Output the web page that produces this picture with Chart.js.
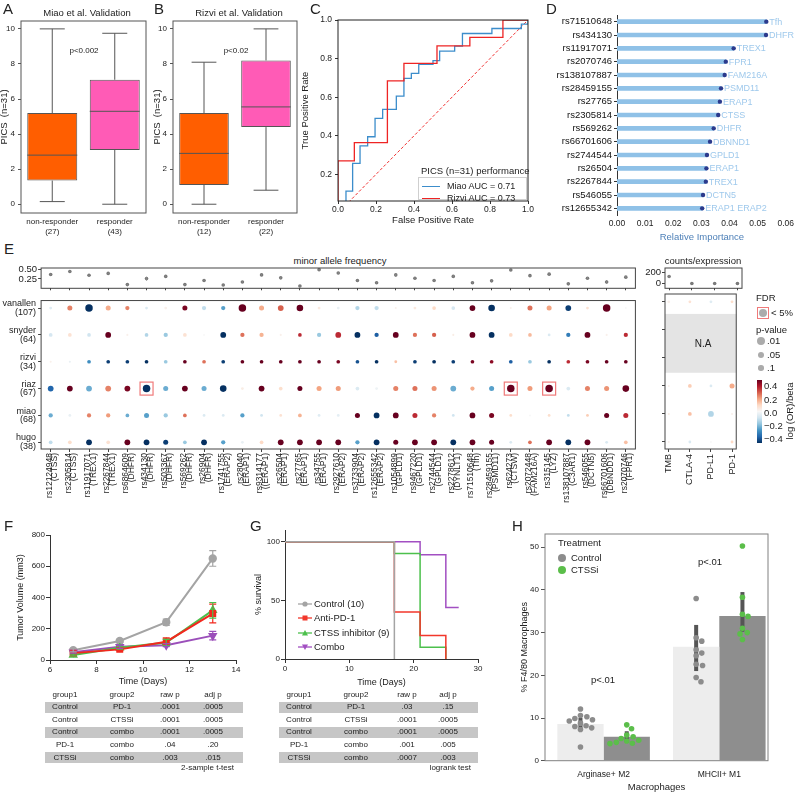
<!DOCTYPE html>
<html><head><meta charset="utf-8">
<script src="https://cdn.jsdelivr.net/npm/chart.js@4.4.1/dist/chart.umd.min.js"></script>
<style>
body{margin:0;background:#fff;}
#root{position:relative;width:798px;height:793px;overflow:hidden;font-family:"Liberation Sans",Arial,sans-serif;color:#222;background:#fff;}
canvas{position:absolute;}
.t{position:absolute;white-space:nowrap;line-height:1;}
</style></head><body><div id="root"></div>
<script>
// ================= DATA =================
// A / B box plots
const groupsMiao = [['non-responder','(27)'],['responder','(43)']];
const groupsRizvi = [['non-responder','(12)'],['responder','(22)']];
const boxTicks = [0,2,4,6,8,10];
const miaoMin=[0.15,0.0], miaoQ1=[1.35,3.1], miaoMedian=[2.8,5.3], miaoQ3=[5.2,7.1], miaoMax=[10.0,9.75];
const rizviMin=[0.0,0.8], rizviQ1=[1.1,4.4], rizviMedian=[2.9,5.55], rizviQ3=[5.2,8.2], rizviMax=[8.1,10.0];
// C ROC
const rocMiaoFpr=[0,0.042,0.077,0.116,0.156,0.195,0.235,0.307,0.347,0.386,0.425,0.50,0.535,0.614,0.655,0.81,0.965,1.0];
const rocMiaoTpr=[0,0.113,0.257,0.348,0.395,0.49,0.537,0.606,0.697,0.723,0.77,0.789,0.839,0.865,0.93,0.956,0.979,1.0];
const rocRizviFpr=[0,0,0.086,0.26,0.347,0.521,0.694,0.868,1.0];
const rocRizviTpr=[0,0.27,0.364,0.685,0.775,0.866,0.91,1.0,1.0];
const rocTicks=[0,0.2,0.4,0.6,0.8,1.0];
// D importance
const snpD=['rs71510648','rs434130','rs11917071','rs2070746','rs138107887','rs28459155','rs27765','rs2305814','rs569262','rs66701606','rs2744544','rs26504','rs2267844','rs546055','rs12655342'];
const geneD=['Tfh','DHFR','TREX1','FPR1','FAM216A','PSMD11','ERAP1','CTSS','DHFR','DBNND1','GPLD1','ERAP1','TREX1','DCTN5','ERAP1   ERAP2'];
const importanceD=[0.0531,0.0530,0.0415,0.0387,0.0383,0.0370,0.0366,0.0360,0.0344,0.0331,0.0320,0.0318,0.0316,0.0306,0.0303];
const importanceTicks=[0,0.01,0.02,0.03,0.04,0.05,0.06];
// E
const snpIds=['rs12124948','rs2305814','rs11917071','rs2267844','rs6864609','rs434130','rs503367','rs569262','rs26904','rs1741755','rs28040','rs9314177','rs26504','rs27765','rs34755','rs2927610','rs3733904','rs12655342','rs1054899','rs9467220','rs2744544','rs2278612','rs71510648','rs28459155','rs624273','rs2072448','rs315145','rs138107887','rs546055','rs66701606','rs2070746'];
const snpGenes=['CTSS','CTSS','TREX1','TREX1','DHFR','DHFR','DHFR','DHFR','DHFR','ERAP2','ERAP1','(ERAP1','ERAP1','ERAP1','ERAP1','ERAP2','ERAP2','ERAP2','GPLD1','GPLD1','GPLD1','DYNLT1','Tfh','PSMD11','CTSW','FAM216A','LYZ','C3AR1','DCTN5','DBNDD1','FPR1'];
const mafValues=[0.37,0.45,0.35,0.40,0.10,0.26,0.32,0.10,0.21,0.09,0.17,0.36,0.28,0.06,0.50,0.41,0.21,0.15,0.36,0.27,0.21,0.32,0.15,0.20,0.49,0.34,0.38,0.12,0.27,0.17,0.30];
const mafErr=[0.02,0.02,0.02,0.02,0.02,0.05,0.02,0.02,0.03,0.02,0.02,0.02,0.03,0.02,0.02,0.03,0.02,0.02,0.05,0.03,0.03,0.03,0.02,0.02,0.02,0.02,0.03,0.02,0.03,0.05,0.03];
const mafTicks=[0.25,0.50];
const cohortNames=['vanallen','snyder','rizvi','riaz','miao','hugo'];
const cohortN=[107,64,34,67,68,38];
const orVanallen=[-0.05,0.2,-0.4,0.15,0.2,-0.06,0.02,0.38,-0.1,-0.22,0.4,0.15,0.24,0.4,0.04,-0.03,-0.12,-0.1,0.02,0.04,0.08,-0.07,0.4,-0.4,0.02,0.22,0.16,-0.38,0.06,0.4,0];
const pVanallen=[0.3,0.02,0.001,0.02,0.05,0.3,0.3,0.02,0.05,0.05,0.001,0.02,0.008,0.003,0.3,0.3,0.05,0.05,0.7,0.3,0.1,0.1,0.008,0.003,0.7,0.02,0.02,0.008,0.3,0.001,0.9];
const orSnyder=[-0.07,0.06,-0.08,0.4,0.02,-0.12,-0.15,0.06,0,-0.4,0.22,0.14,0.02,0.3,-0.15,0.3,-0.4,-0.33,0.4,0.22,0.24,0.03,0.4,-0.4,0.08,0.13,-0.06,-0.28,0.4,0.02,0.3];
const pSnyder=[0.1,0.1,0.1,0.008,0.7,0.1,0.05,0.1,0.9,0.008,0.05,0.05,0.7,0.1,0.05,0.008,0.008,0.05,0.008,0.05,0.05,0.7,0.008,0.008,0.1,0.1,0.3,0.05,0.008,0.7,0.05];
const orRizvi=[0.02,-0.03,-0.25,-0.38,-0.38,-0.4,-0.15,0.4,0.22,-0.38,0.4,0.4,0.4,0.4,0.4,0.38,-0.35,-0.4,0.12,-0.38,-0.4,-0.38,0.38,0.36,-0.33,-0.15,-0.4,0.3,0.38,0.4,0.4];
const pRizvi=[0.7,0.7,0.1,0.1,0.1,0.1,0.1,0.1,0.1,0.1,0.1,0.1,0.1,0.1,0.1,0.1,0.1,0.1,0.3,0.1,0.1,0.1,0.1,0.1,0.1,0.1,0.1,0.1,0.1,0.1,0.1];
const orRiaz=[-0.32,0.4,-0.2,0.2,0.38,-0.4,-0.2,0.4,-0.2,-0.4,0.03,0.4,0.07,0.4,0.16,0.17,-0.06,-0.02,0.2,0.22,0.18,-0.2,0.15,-0.22,0.4,0.17,0.4,-0.06,0.2,0.18,0.4];
const pRiaz=[0.008,0.008,0.008,0.008,0.008,0.001,0.02,0.008,0.02,0.003,0.3,0.008,0.1,0.02,0.02,0.02,0.1,0.3,0.02,0.02,0.02,0.008,0.05,0.02,0.001,0.02,0.001,0.1,0.02,0.02,0.003];
const orMiao=[-0.2,-0.03,0.2,0.17,-0.2,-0.22,-0.15,0.22,-0.06,-0.06,-0.22,-0.08,0.06,0.14,-0.05,-0.04,0.4,-0.4,0.4,0.3,0.2,-0.08,0.4,0.38,0.07,0,0.07,-0.1,0.1,0.4,0.3];
const pMiao=[0.05,0.3,0.05,0.05,0.1,0.02,0.05,0.1,0.3,0.3,0.05,0.3,0.3,0.1,0.3,0.3,0.02,0.008,0.008,0.02,0.05,0.3,0.008,0.02,0.3,0.9,0.3,0.3,0.3,0.02,0.02];
const orHugo=[-0.1,0.07,-0.4,0.06,0.4,-0.4,-0.38,-0.15,-0.4,-0.22,-0.03,0.08,0.4,0.4,0.4,0.4,-0.22,-0.4,0.4,0.4,0.4,-0.4,0.4,0.4,-0.06,0.22,0.4,-0.4,0.4,-0.06,0.12];
const pHugo=[0.1,0.1,0.008,0.1,0.008,0.008,0.02,0.1,0.008,0.05,0.3,0.1,0.008,0.008,0.008,0.008,0.05,0.008,0.02,0.008,0.008,0.008,0.008,0.02,0.3,0.1,0.008,0.008,0.008,0.3,0.1];
const fdrCells=[['riaz','rs434130'],['riaz','rs624273'],['riaz','rs315145']];
const clinicalNames=['TMB','CTLA-4','PD-L1','PD-1'];
const countsValues=[125,3,3,3];
const countsErr=[25,5,5,5];
const countsTicks=[0,200];
const orClinVanallen=[0.02,0.06,-0.05,0.07], pClinVanallen=[0.3,0.3,0.3,0.3];
const orClinRiaz=[0.02,0.1,-0.06,0.15], pClinRiaz=[0.7,0.1,0.3,0.02];
const orClinMiao=[0.03,0.12,-0.12,0.02], pClinMiao=[0.7,0.1,0.008,0.7];
const orClinHugo=[0.02,-0.06,0,0.08], pClinHugo=[0.7,0.3,0.9,0.3];
const naCohorts=['snyder','rizvi'];
// F tumour growth
const days=[7,9,11,13];
const volControl=[62,122,242,650], errControl=[10,10,20,50];
const volPD1=[44,68,117,297], errPD1=[6,8,25,60];
const volCTSS=[32,78,112,318], errCTSS=[6,8,20,50];
const volCombo=[50,85,95,156], errCombo=[6,10,10,27];
// G survival
const tControl=[0,17], sControl=[100,0];
const tPD1=[0,17,21,25], sPD1=[100,40,20,0];
const tCTSS=[0,17,21,25], sCTSS=[100,90,10,0];
const tCombo=[0,21,25,27], sCombo=[100,89,44,44];
const tableHeader=['group1','group2','raw p','adj p'];
const fTable=[['Control','PD-1','.0001','.0005'],['Control','CTSSi','.0001','.0005'],['Control','combo','.0001','.0005'],['PD-1','combo','.04','.20'],['CTSSi','combo','.003','.015']];
const gTable=[['Control','PD-1','.03','.15'],['Control','CTSSi','.0001','.0005'],['Control','combo','.0001','.0005'],['PD-1','combo','.001','.005'],['CTSSi','combo','.0007','.003']];
// H macrophages
const hCategories=['Arginase+ M2','MHCII+ M1'];
const hControlMean=[8.6,26.7], hCtssMean=[5.6,33.9];
const hControlLow=[7.3,21.0], hControlHigh=[10.0,31.8];
const hCtssLow=[4.9,30.2], hCtssHigh=[6.9,39.5];
const hControlM2=[12.1,10.6,10.3,9.9,9.6,9.3,8.8,8.2,8.0,7.7,7.3,3.2];
const hControlM1=[38.0,28.8,28.0,26.0,25.2,24.6,22.6,22.3,19.5,18.5];
const hCtssM2=[8.4,7.5,6.0,5.6,5.2,4.8,4.6,4.3,4.1,4.0];
const hCtssM1=[50.3,38.3,34.3,33.8,31.0,30.0,29.7,28.4];
const hTicks=[0,10,20,30,40,50];

// ================= HELPERS =================
const FONT='"Liberation Sans", Arial, sans-serif';
Chart.defaults.font.family=FONT;
Chart.defaults.color='#222';
Chart.defaults.animation=false;
Chart.defaults.events=[];
Chart.defaults.plugins.legend.display=false;
Chart.defaults.plugins.tooltip.enabled=false;
const root=document.getElementById('root');

function addText(s,x,y,o={}){
  const d=document.createElement('div');d.className='t';d.textContent=s;
  d.style.left=x+'px';d.style.top=y+'px';d.style.fontSize=(o.size||9.5)+'px';
  if(o.color)d.style.color=o.color;
  let ax=o.anchor==='left'?'0%':o.anchor==='right'?'-100%':'-50%';
  if(o.anchor==='tl'){d.style.transform='none';}
  else d.style.transform='translate('+ax+',-50%)'+(o.rot?' rotate('+o.rot+'deg)':'');
  root.appendChild(d);return d;
}
function addBox(x,y,w,h,style){const d=document.createElement('div');Object.assign(d.style,{position:'absolute',left:x+'px',top:y+'px',width:w+'px',height:h+'px'},style);root.appendChild(d);return d;}
function mk(x,y,w,h,cfg){
  const c=document.createElement('canvas');c.width=w;c.height=h;
  Object.assign(c.style,{left:x+'px',top:y+'px',width:w+'px',height:h+'px'});
  root.appendChild(c);
  cfg.options=Object.assign({responsive:false,maintainAspectRatio:false,devicePixelRatio:1,animation:false},cfg.options||{});
  return new Chart(c,cfg);
}
const fixW=w=>s=>{s.width=w;};
const fixH=h=>s=>{s.height=h;};
const setTicks=vals=>s=>{s.ticks=vals.map(v=>({value:v}));};
const tickGrid=(len,color)=>({display:true,drawOnChartArea:false,drawTicks:true,tickLength:len,color:color||'#333'});
const noGrid={display:false,drawTicks:false};

Chart.register({id:'frame',afterDatasetsDraw(chart,args,o){
  if(!o||!o.color)return;const a=chart.chartArea,c=chart.ctx;
  c.save();c.strokeStyle=o.color;c.lineWidth=o.width||1;
  c.strokeRect(a.left,a.top,a.right-a.left,a.bottom-a.top);c.restore();}});
Chart.register({id:'errbars',afterDatasetsDraw(chart){
  const c=chart.ctx;
  chart.data.datasets.forEach((ds,i)=>{
    if(!ds.errs)return;const meta=chart.getDatasetMeta(i);const ys=chart.scales[meta.yAxisID];
    c.save();c.strokeStyle=ds.errColor||ds.borderColor;c.lineWidth=ds.errWidth||1;
    meta.data.forEach((el,j)=>{const e=ds.errs[j];if(!e)return;const v=meta.controller.getParsed(j).y;
      const t=ys.getPixelForValue(v+e),b=ys.getPixelForValue(v-e),cw=ds.capW||0;
      c.beginPath();c.moveTo(el.x,t);c.lineTo(el.x,b);
      if(cw){c.moveTo(el.x-cw,t);c.lineTo(el.x+cw,t);c.moveTo(el.x-cw,b);c.lineTo(el.x+cw,b);}
      c.stroke();});
    c.restore();});}});

const rdbuStops=['#053061','#2166AC','#4393C3','#92C5DE','#D1E5F0','#F7F7F7','#FDDBC7','#F4A582','#D6604D','#B2182B','#67001F'];
function hex2rgb(h){return [1,3,5].map(i=>parseInt(h.substr(i,2),16));}
function rdbu(v){let t=Math.max(0,Math.min(1,(v+0.4)/0.8))*10;const i=Math.min(9,Math.floor(t)),f=t-i;
  const a=hex2rgb(rdbuStops[i]),b=hex2rgb(rdbuStops[i+1]);
  return 'rgb('+a.map((x,k)=>Math.round(x+(b[k]-x)*f)).join(',')+')';}
function radiusFor(p){return Math.max(0.9,0.9+0.95*(-Math.log10(p)));}

// ================= A / B =================
function boxChart(cx,plotLeft,plotRight,cw,labels,mins,q1s,meds,q3s,maxs,titlePad){
  const plug={id:'whisk',afterDatasetsDraw(chart){
    const y=chart.scales.y,c=chart.ctx,meta=chart.getDatasetMeta(0);
    c.save();c.strokeStyle='#555';c.lineWidth=1;
    meta.data.forEach((el,i)=>{const x=el.x,hw=el.width/2,P=v=>y.getPixelForValue(v);
      c.beginPath();
      c.moveTo(x,P(q3s[i]));c.lineTo(x,P(maxs[i]));c.moveTo(x-hw/2,P(maxs[i]));c.lineTo(x+hw/2,P(maxs[i]));
      c.moveTo(x,P(q1s[i]));c.lineTo(x,P(mins[i]));c.moveTo(x-hw/2,P(mins[i]));c.lineTo(x+hw/2,P(mins[i]));
      c.moveTo(x-hw,P(meds[i]));c.lineTo(x+hw,P(meds[i]));c.stroke();});
    c.restore();}};
  return mk(cx,0,cw,240,{type:'bar',
    data:{labels,datasets:[{data:q1s.map((q,i)=>[q,q3s[i]]),backgroundColor:['#FF5E00','#FF5BB6'],borderColor:'#555',borderWidth:1,borderSkipped:false,barPercentage:0.8,categoryPercentage:1}]},
    options:{layout:{autoPadding:false,padding:{top:21,right:cx+cw-plotRight,left:0,bottom:0}},
      scales:{x:{grid:noGrid,border:{display:false},ticks:{font:{size:8},padding:4,color:'#222'},afterFit:fixH(27)},
        y:{min:-0.5,max:10.45,afterBuildTicks:setTicks(boxTicks),grid:tickGrid(3,'#555'),border:{display:false},
          ticks:{font:{size:8},padding:3,color:'#222'},title:{display:true,text:'PICS  (n=31)',font:{size:9.5},padding:{top:titlePad}},afterFit:fixW(plotLeft-cx)}},
      plugins:{frame:{color:'#555'}}},plugins:[plug]});
}
boxChart(0,21,146,150,groupsMiao,miaoMin,miaoQ1,miaoMedian,miaoQ3,miaoMax,-1);
boxChart(150,173,297,152,groupsRizvi,rizviMin,rizviQ1,rizviMedian,rizviQ3,rizviMax,2);
addText('A',3,1,{anchor:'tl',size:15});
addText('B',154,1,{anchor:'tl',size:15});
addText('Miao et al. Validation',87,13,{size:9.5});
addText('Rizvi et al. Validation',239,13,{size:9.5});
addText('p<0.002',84,51,{size:8});
addText('p<0.02',236,51,{size:8});

// ================= C =================
const toXY=(xs,ys)=>xs.map((x,i)=>({x,y:ys[i]}));
mk(300,0,235,232,{type:'scatter',
  data:{datasets:[
    {data:toXY(rocRizviFpr,rocRizviTpr),showLine:true,stepped:true,borderColor:'#EE2424',borderWidth:1.3,pointRadius:0},
    {data:toXY(rocMiaoFpr,rocMiaoTpr),showLine:true,stepped:true,borderColor:'#3C8DCB',borderWidth:1.3,pointRadius:0},
    {data:[{x:0,y:0},{x:1,y:1}],showLine:true,borderColor:'#F03030',borderWidth:1,borderDash:[3,2],pointRadius:0}]},
  options:{layout:{autoPadding:false,padding:{top:20,right:7,left:0,bottom:0}},
    scales:{x:{type:'linear',min:0,max:1,afterBuildTicks:setTicks(rocTicks),grid:tickGrid(3,'#333'),border:{display:false},
        ticks:{font:{size:8.5},padding:1,callback:v=>v.toFixed(1)},title:{display:true,text:'False Positive Rate',font:{size:9.5},padding:{bottom:6}},afterFit:fixH(31)},
      y:{min:0.062,max:1,afterBuildTicks:setTicks(rocTicks.slice(1)),grid:tickGrid(3,'#333'),border:{display:false},
        ticks:{font:{size:8.5},padding:3,callback:v=>v.toFixed(1)},title:{display:true,text:'True Positive Rate',font:{size:9.5},padding:{top:0}},afterFit:fixW(38)}},
    plugins:{frame:{color:'#222'}}}});
addText('C',310,1,{anchor:'tl',size:15});
addText('PICS (n=31) performance',421,171,{anchor:'left',size:9.5});
addBox(418,177,109,23,{border:'1px solid #cfcfcf',background:'#fff',boxSizing:'border-box'});
addBox(422,185.5,18,0,{borderTop:'1.5px solid #3C8DCB'});
addBox(422,197.5,18,0,{borderTop:'1.5px solid #EE2424'});
addText('Miao AUC = 0.71',447,186,{anchor:'left',size:9});
addText('Rizvi AUC = 0.73',447,198,{anchor:'left',size:9});

// ================= D =================
const chartD=mk(535,0,263,245,{type:'bar',
  data:{labels:snpD,datasets:[{data:importanceD,backgroundColor:'#8FC1E7',barThickness:4}]},
  options:{indexAxis:'y',layout:{autoPadding:false,padding:{top:15,right:4,left:0,bottom:0}},
    scales:{x:{min:0,max:0.0604,afterBuildTicks:setTicks(importanceTicks),grid:noGrid,border:{display:false},
        ticks:{font:{size:8.5},padding:4,callback:v=>v.toFixed(2)},title:{display:true,text:'Relative Importance',color:'#4F81B8',font:{size:9.5},padding:{bottom:2}},afterFit:fixH(30)},
      y:{grid:Object.assign(tickGrid(3,'#333'),{offset:false}),border:{display:true,color:'#333'},ticks:{autoSkip:false,font:{size:9.5},padding:2,color:'#111'},afterFit:fixW(82)}}},
  plugins:[{id:'lolli',afterDatasetsDraw(chart){const c=chart.ctx;c.save();c.fillStyle='#2B3A8C';
    chart.getDatasetMeta(0).data.forEach(el=>{c.beginPath();c.arc(el.x,el.y,2.2,0,Math.PI*2);c.fill();});c.restore();}}]});
chartD.getDatasetMeta(0).data.forEach((el,i)=>addText(geneD[i],535+el.x+3,el.y,{anchor:'left',size:9,color:'#9FC9EC'}));
addText('D',546,1,{anchor:'tl',size:15});

// ================= E =================
addText('E',4,241,{anchor:'tl',size:15});
addText('minor allele frequency',340,261,{size:9.5});
addText('counts/expression',703,261,{size:9.5});
// MAF
mk(0,250,640,45,{type:'line',
  data:{labels:snpIds,datasets:[{data:mafValues,errs:mafErr,errColor:'#888',showLine:false,pointRadius:1.8,pointBackgroundColor:'#777',pointBorderWidth:0}]},
  options:{layout:{autoPadding:false,padding:{top:18,right:4.6,left:0,bottom:0}},
    scales:{x:{type:'category',offset:true,grid:tickGrid(2,'#444'),border:{display:false},ticks:{display:false},afterFit:fixH(2.5)},
      y:{min:0,max:0.545,afterBuildTicks:setTicks(mafTicks),grid:tickGrid(3,'#444'),border:{display:false},ticks:{font:{size:9.5},padding:1,callback:v=>v.toFixed(2)},afterFit:fixW(41.1)}},
    plugins:{frame:{color:'#444'}}}});
// counts
mk(630,250,115,45,{type:'scatter',
  data:{datasets:[{data:countsValues.map((v,i)=>({x:i,y:v})),errs:countsErr,errColor:'#888',pointRadius:1.8,pointBackgroundColor:'#777',pointBorderWidth:0}]},
  options:{layout:{autoPadding:false,padding:{top:18,right:3,left:0,bottom:0}},
    scales:{x:{min:-0.18,max:3.2,afterBuildTicks:setTicks([0,1,2,3]),grid:tickGrid(2,'#444'),border:{display:false},ticks:{display:false},afterFit:fixH(2.5)},
      y:{min:-79,max:271,afterBuildTicks:setTicks(countsTicks),grid:tickGrid(3,'#444'),border:{display:false},ticks:{font:{size:9.5},padding:1},afterFit:fixW(35)}},
    plugins:{frame:{color:'#444'}}}});
// dot matrix
const orRows=[orVanallen,orSnyder,orRizvi,orRiaz,orMiao,orHugo];
const pRows=[pVanallen,pSnyder,pRizvi,pRiaz,pMiao,pHugo];
const ePts=[];
orRows.forEach((row,r)=>row.forEach((v,c)=>ePts.push({x:snpIds[c],y:5-r,v,p:pRows[r][c]})));
const rowTicks=[0,1,2,3,4,5];
const fdrPlugin={id:'fdr',afterDatasetsDraw(chart){const c=chart.ctx,xs=chart.scales.x,ys=chart.scales.y;
  c.save();c.strokeStyle='#F07A7A';c.lineWidth=1.2;
  fdrCells.forEach(([co,snp])=>{const px=xs.getPixelForValue(snpIds.indexOf(snp)),py=ys.getPixelForValue(5-cohortNames.indexOf(co));c.strokeRect(px-6.5,py-6.5,13,13);});
  c.restore();}};
mk(0,290,640,230,{type:'scatter',
  data:{labels:snpIds,datasets:[{data:ePts,pointRadius:ctx=>radiusFor(ctx.raw.p),pointBackgroundColor:ctx=>rdbu(ctx.raw.v),pointBorderWidth:0}]},
  options:{layout:{autoPadding:false,padding:{top:4,right:4.6,left:0,bottom:0}},
    scales:{x:{type:'category',offset:true,grid:tickGrid(3,'#444'),border:{display:false},
        ticks:{autoSkip:false,minRotation:90,maxRotation:90,font:{size:8.5,lineHeight:0.68},padding:1,labelOffset:-1.5,color:'#222',
          callback:(v,i)=>[snpIds[i],'('+snpGenes[i]+')']},afterFit:fixH(71)},
      y:{min:-0.25,max:5.28,afterBuildTicks:setTicks(rowTicks),grid:tickGrid(3,'#444'),border:{display:false},
        ticks:{font:{size:9,lineHeight:0.95},padding:2,color:'#222',callback:v=>[cohortNames[5-v],'('+cohortN[5-v]+')']},afterFit:fixW(41.1)}},
    plugins:{frame:{color:'#444'}}},plugins:[fdrPlugin]});
// clinical matrix
const clinRows={vanallen:[orClinVanallen,pClinVanallen],riaz:[orClinRiaz,pClinRiaz],miao:[orClinMiao,pClinMiao],hugo:[orClinHugo,pClinHugo]};
const cPts=[];
cohortNames.forEach((co,r)=>{if(!clinRows[co])return;const [ors,ps]=clinRows[co];ors.forEach((v,c)=>cPts.push({x:c,y:5-r,v,p:ps[c]}));});
const naPlugin={id:'na',beforeDatasetsDraw(chart){const a=chart.chartArea,ys=chart.scales.y,c=chart.ctx;
  const idx=naCohorts.map(n=>5-cohortNames.indexOf(n));const top=ys.getPixelForValue(Math.max(...idx)+0.57),bot=ys.getPixelForValue(Math.min(...idx)-0.53);
  c.save();c.fillStyle='#E4E4E4';c.fillRect(a.left,top,a.right-a.left,bot-top);c.restore();}};
const chartClin=mk(630,290,115,230,{type:'scatter',
  data:{datasets:[{data:cPts,pointRadius:ctx=>radiusFor(ctx.raw.p),pointBackgroundColor:ctx=>rdbu(ctx.raw.v),pointBorderWidth:0}]},
  options:{layout:{autoPadding:false,padding:{top:4,right:3,left:0,bottom:0}},
    scales:{x:{min:-0.18,max:3.2,afterBuildTicks:setTicks([0,1,2,3]),grid:tickGrid(3,'#444'),border:{display:false},
        ticks:{autoSkip:false,minRotation:90,maxRotation:90,font:{size:9},padding:2,callback:v=>clinicalNames[v]},afterFit:fixH(71)},
      y:{min:-0.25,max:5.28,afterBuildTicks:setTicks(rowTicks),grid:tickGrid(3,'#444'),border:{display:false},ticks:{display:false},afterFit:fixW(35)}},
    plugins:{frame:{color:'#444'}}},plugins:[naPlugin]});
{const ys=chartClin.scales.y;const y=(ys.getPixelForValue(4)+ys.getPixelForValue(3))/2+290;addText('N.A',703,y,{size:10});}
// E legend
addText('FDR',756,298,{anchor:'left',size:9.5});
addBox(756.5,306.5,12.5,12.5,{border:'1.2px solid #F07A7A',boxSizing:'border-box'});
addBox(758.5,308.5,8.5,8.5,{borderRadius:'50%',background:'#ABABAB'});
addText('< 5%',771,313,{anchor:'left',size:9.5});
addText('p-value',756,330,{anchor:'left',size:9.5});
[[341,4,'.01'],[355,3.4,'.05'],[368,2.8,'.1']].forEach(([y,r,s])=>{addBox(761-r,y-r,2*r,2*r,{borderRadius:'50%',background:'#ABABAB'});addText(s,767,y,{anchor:'left',size:9.5});});
addBox(757,380,4.5,63,{background:'linear-gradient(to bottom,'+rdbuStops.slice().reverse().join(',')+')'});
[[386,'0.4'],[399.5,'0.2'],[413,'0.0'],[426,'\u22120.2'],[439,'\u22120.4']].forEach(([y,s])=>addText(s,764,y,{anchor:'left',size:9.5}));
addText('log (OR)/beta',790,411,{size:9.5,rot:-90});

// ================= F =================
const toPts=(xs,ys)=>xs.map((x,i)=>({x,y:ys[i]}));
mk(10,515,235,175,{type:'line',
  data:{datasets:[
    {data:toPts(days,volPD1),errs:errPD1,capW:3.5,errWidth:1.2,borderColor:'#F2281E',backgroundColor:'#F2281E',pointStyle:'rect',pointRadius:3.5,borderWidth:2},
    {data:toPts(days,volCTSS),errs:errCTSS,capW:3.5,errWidth:1.2,borderColor:'#4CBF4C',backgroundColor:'#4CBF4C',pointStyle:'triangle',pointRadius:3.5,borderWidth:2},
    {data:toPts(days,volCombo),errs:errCombo,capW:3.5,errWidth:1.2,borderColor:'#9B4FBA',backgroundColor:'#9B4FBA',pointStyle:'triangle',rotation:180,pointRadius:3.5,borderWidth:2},
    {data:toPts(days,volControl),errs:errControl,capW:3.5,errWidth:1.2,borderColor:'#A4A4A4',backgroundColor:'#A4A4A4',pointStyle:'circle',pointRadius:3.2,borderWidth:2}]},
  options:{layout:{autoPadding:false,padding:{top:20,right:9,left:0,bottom:0}},
    scales:{x:{type:'linear',min:6,max:14,afterBuildTicks:setTicks([6,8,10,12,14]),grid:tickGrid(4,'#333'),border:{display:true,color:'#333'},
        ticks:{font:{size:8},padding:1},title:{display:true,text:'Time (Days)',font:{size:9},padding:{bottom:2.6}},afterFit:fixH(30)},
      y:{min:0,max:800,afterBuildTicks:setTicks([0,200,400,600,800]),grid:tickGrid(4,'#333'),border:{display:true,color:'#333'},
        ticks:{font:{size:8},padding:1},title:{display:true,text:'Tumor Volume (mm3)',font:{size:9},padding:{top:5}},afterFit:fixW(40)}}}});
addText('F',4,518,{anchor:'tl',size:15});

// ================= G =================
mk(250,515,235,175,{type:'line',
  data:{datasets:[
    {data:toPts(tControl,sControl),stepped:true,borderColor:'#A4A4A4',borderWidth:1.5,pointRadius:0},
    {data:toPts(tPD1,sPD1),stepped:true,borderColor:'#F2372B',borderWidth:1.5,pointRadius:0},
    {data:toPts(tCTSS,sCTSS),stepped:true,borderColor:'#4CC04C',borderWidth:1.5,pointRadius:0},
    {data:toPts(tCombo,sCombo),stepped:true,borderColor:'#A24FC2',borderWidth:1.5,pointRadius:0}]},
  options:{layout:{autoPadding:false,padding:{top:15,right:7,left:0,bottom:0}},
    scales:{x:{type:'linear',min:0,max:30,afterBuildTicks:setTicks([0,10,20,30]),grid:tickGrid(4,'#333'),border:{display:true,color:'#333'},
        ticks:{font:{size:8},padding:1},title:{display:true,text:'Time (Days)',font:{size:9},padding:{bottom:2}},afterFit:fixH(31)},
      y:{min:0,max:110,afterBuildTicks:setTicks([0,50,100]),grid:tickGrid(4,'#333'),border:{display:true,color:'#333'},
        ticks:{font:{size:8},padding:1},title:{display:true,text:'% survival',font:{size:9},padding:{top:3}},afterFit:fixW(35)}}}});
addText('G',250,518,{anchor:'tl',size:15});
function legendItem(x,y,color,shape,label){
  const ns='http://www.w3.org/2000/svg';const s=document.createElementNS(ns,'svg');
  s.setAttribute('width','16');s.setAttribute('height','10');
  Object.assign(s.style,{position:'absolute',left:(x-8)+'px',top:(y-5)+'px'});
  let inner='<line x1="1" y1="5" x2="15" y2="5" stroke="'+color+'" stroke-width="1.3"/>';
  if(shape==='circle')inner+='<circle cx="8" cy="5" r="2.6" fill="'+color+'"/>';
  if(shape==='square')inner+='<rect x="5.5" y="2.5" width="5" height="5" fill="'+color+'"/>';
  if(shape==='tri')inner+='<polygon points="8,2 11,7.5 5,7.5" fill="'+color+'"/>';
  if(shape==='itri')inner+='<polygon points="8,8 11,2.5 5,2.5" fill="'+color+'"/>';
  s.innerHTML=inner;root.appendChild(s);
  addText(label,x+9,y,{anchor:'left',size:9.5});
}
legendItem(305,603.5,'#A4A4A4','circle','Control (10)');
legendItem(305,618,'#F2372B','square','Anti-PD-1');
legendItem(305,632.5,'#4CC04C','tri','CTSS inhibitor (9)');
legendItem(305,647,'#A24FC2','itri','Combo');

// tables
function table(cols,x0,x1,rows,foot,footX){
  const y0=694.5,dy=12.6;
  tableHeader.forEach((h,k)=>addText(h,cols[k],y0,{size:8}));
  rows.forEach((r,i)=>{const y=y0+dy*(i+1);
    if(i%2===0)addBox(x0,y-5.5,x1-x0,11,{background:'#C6C6C6'});
    r.forEach((s,k)=>addText(s,cols[k],y,{size:8}));});
  addText(foot,footX,768,{anchor:'right',size:8});
}
table([65,122,170,213],45,243,fTable,'2-sample t-test',234);
table([299,356,407,448],279,478,gTable,'logrank test',471);

// ================= H =================
function swarm(pys,r){const res=new Array(pys.length).fill(0);const placed=[];
  pys.map((y,i)=>i).sort((a,b)=>pys[a]-pys[b]).forEach(i=>{
    for(let k=0;k<80;k++){const off=(k%2?1:-1)*Math.ceil(k/2)*0.8;
      if(placed.every(([px,py])=>Math.hypot(px-off,py-pys[i])>=2*r+0.3)){res[i]=off;placed.push([off,pys[i]]);break;}}});
  return res;}
const hPoints=[[hControlM2,hCtssM2],[hControlM1,hCtssM1]];
const hPlugin={id:'hdots',afterDatasetsDraw(chart){const c=chart.ctx,ys=chart.scales.y;
  const lows=[hControlLow,hCtssLow],highs=[hControlHigh,hCtssHigh],cols=['#8C8C8C','#5BBE4A'];
  [0,1].forEach(d=>{chart.getDatasetMeta(d).data.forEach((el,g)=>{
    c.save();c.strokeStyle='#555';c.lineWidth=4;c.beginPath();c.moveTo(el.x,ys.getPixelForValue(lows[d][g]));c.lineTo(el.x,ys.getPixelForValue(highs[d][g]));c.stroke();c.restore();});});
  [0,1].forEach(d=>{chart.getDatasetMeta(d).data.forEach((el,g)=>{
    const vals=hPoints[g][d];const pys=vals.map(v=>ys.getPixelForValue(v));const offs=swarm(pys,2.8);
    c.save();c.fillStyle=cols[d];vals.forEach((v,i)=>{c.beginPath();c.arc(el.x+offs[i],pys[i],2.8,0,Math.PI*2);c.fill();});c.restore();});});}};
mk(515,520,262,273,{type:'bar',
  data:{datasets:[
    {data:hControlMean.map((v,i)=>({x:i,y:v})),backgroundColor:'#EDEDED',categoryPercentage:0.8,barPercentage:1},
    {data:hCtssMean.map((v,i)=>({x:i,y:v})),backgroundColor:'#8E8E8E',categoryPercentage:0.8,barPercentage:1}]},
  options:{layout:{autoPadding:false,padding:{top:14,right:9,left:0,bottom:0}},
    scales:{x:{type:'linear',offset:false,min:-0.5065,max:1.421,afterBuildTicks:setTicks([0,1]),grid:noGrid,border:{display:false},
        ticks:{font:{size:8.5},padding:9,callback:v=>hCategories[v]},title:{display:true,text:'Macrophages',font:{size:9.5},padding:{bottom:0.3}},afterFit:fixH(32.3)},
      y:{min:0,max:53.1,afterBuildTicks:setTicks(hTicks),grid:tickGrid(4,'#555'),border:{display:false},
        ticks:{font:{size:8},padding:2},title:{display:true,text:'% F4/80 Macrophages',font:{size:9},padding:{top:4}},afterFit:fixW(30)}},
    plugins:{frame:{color:'#808080'}}},plugins:[hPlugin]});
addText('H',512,518,{anchor:'tl',size:15});
addText('Treatment',558,543,{anchor:'left',size:9.5});
addBox(558,553.7,8,8,{borderRadius:'50%',background:'#8C8C8C'});
addText('Control',571,557.7,{anchor:'left',size:9.5});
addBox(558,566,8,8,{borderRadius:'50%',background:'#5BBE4A'});
addText('CTSSi',571,570,{anchor:'left',size:9.5});
addText('p<.01',603,680,{size:9.5});
addText('p<.01',710,562,{size:9.5});
</script></body></html>
